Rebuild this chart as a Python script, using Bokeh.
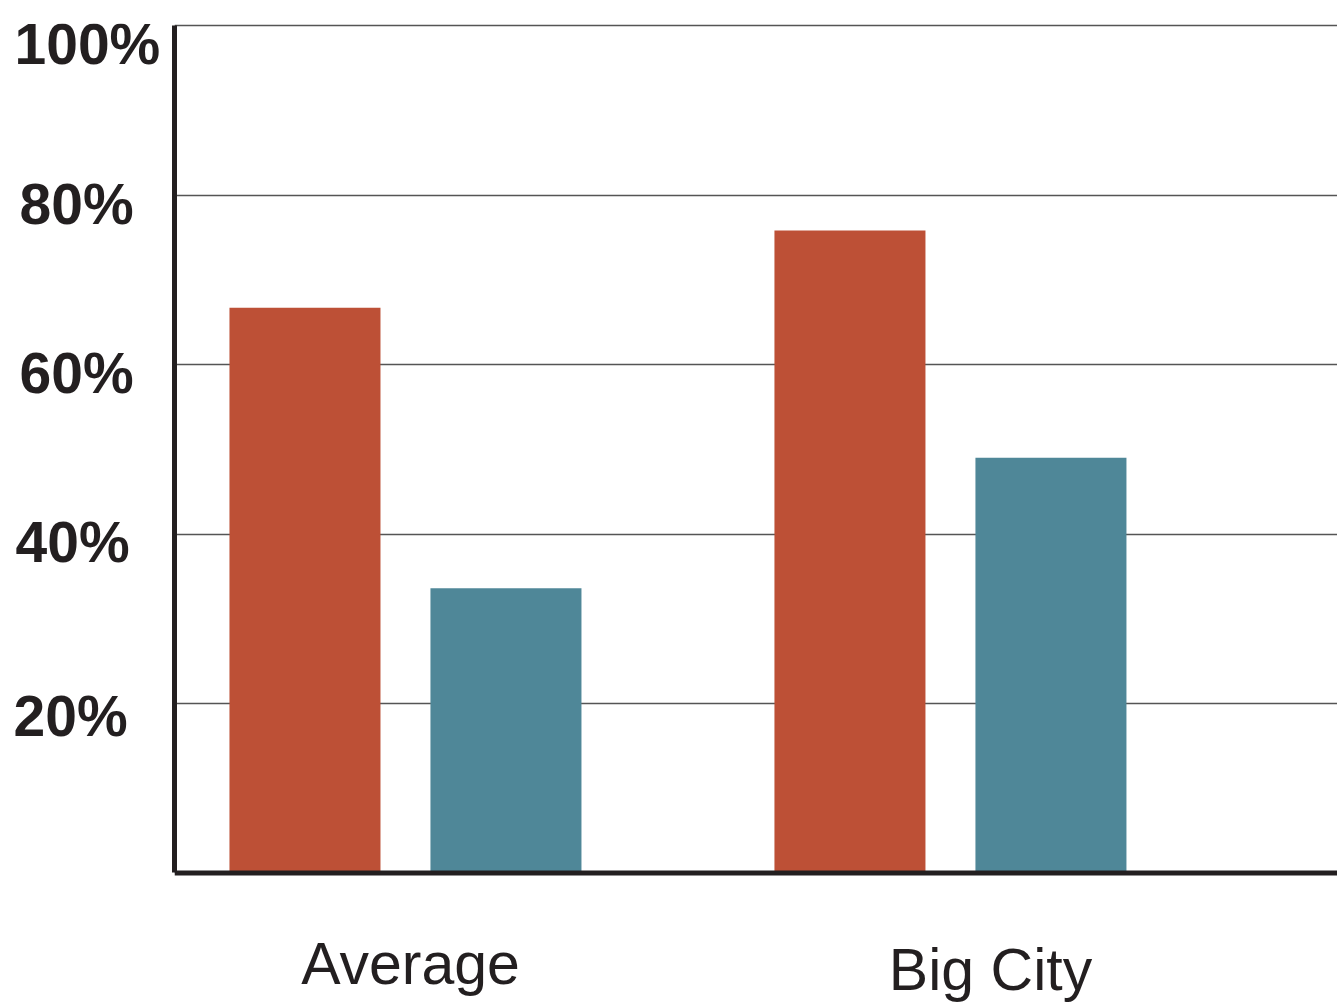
from bokeh.plotting import figure
from bokeh.models import FactorRange, Range1d, ColumnDataSource, FixedTicker, Label, Span
from bokeh.layouts import row
from bokeh.transform import dodge
from bokeh.embed import file_html
from bokeh.resources import INLINE

# ---- data ----
categories = ["Average", "Big City"]
series_red = [66.7, 75.8]
series_teal = [33.6, 49.0]
tick_values = [20, 40, 60, 80, 100]
tick_labels = ["20%", "40%", "60%", "80%", "100%"]

# ---- styles ----
RED = "#bd5036"
TEAL = "#4f8798"
INK = "#231f20"
GRID = "#555555"
tick_label_x = [13, 15, 19, 19, 14]         # canvas px of the label figure
tick_label_drop = [5.5, -3, -6, -9.5, -4]   # px offsets below tick value
cat_label_x = [242, 822]                    # canvas px of the chart figure
cat_label_drop = [91.5, 97.5]               # px below zero line

LEFT_W = 168
H = 1008

y_range = Range1d(-15.99, 100.24)          # chart panel, frame starts 23 px down
label_y_range = Range1d(-15.99, 102.95)    # label panel

# ---- left figure: tick labels ----
lab = figure(width=LEFT_W, height=H, x_range=Range1d(0, LEFT_W), y_range=label_y_range,
             output_backend="svg", toolbar_location=None,
             title=None, title_location=None,
             x_axis_location=None, y_axis_location=None,
             min_border_left=0, min_border_right=0, min_border_top=0, min_border_bottom=0)
lab.outline_line_color = None
lab.xgrid.visible = False
lab.ygrid.visible = False
for v, t, lx, drop in zip(tick_values, tick_labels, tick_label_x, tick_label_drop):
    lab.add_layout(Label(x=lx, y=v, x_units="canvas", y_units="data", y_offset=-drop,
                         text=t, text_font="Liberation Sans", text_font_style="bold",
                         text_font_size="57px", text_color=INK,
                         text_align="left", text_baseline="alphabetic"))

# ---- main chart ----
source = ColumnDataSource(dict(cat=categories, red=series_red, teal=series_teal))
x_range = FactorRange(factors=categories, factor_padding=0.0,
                      range_padding=0.067, range_padding_units="absolute")

p = figure(width=1337 - LEFT_W, height=H, x_range=x_range, y_range=y_range,
           output_backend="svg", toolbar_location=None, x_axis_location=None, title=None,
           min_border_left=6, min_border_right=0, min_border_top=23, min_border_bottom=0)
p.outline_line_color = None

p.vbar(x=dodge("cat", -0.3276, range=p.x_range), top="red", bottom=0, width=0.2771,
       source=source, fill_color=RED, line_color=None)
p.vbar(x=dodge("cat", 0.0412, range=p.x_range), top="teal", bottom=0, width=0.2771,
       source=source, fill_color=TEAL, line_color=None)

p.xgrid.visible = False
p.ygrid.ticker = FixedTicker(ticks=[0] + tick_values)
p.ygrid.grid_line_color = GRID
p.ygrid.grid_line_width = 1.5

ax = p.yaxis[0]
ax.bounds = (0, 100)
ax.ticker = FixedTicker(ticks=[])
ax.axis_line_color = INK
ax.axis_line_width = 5
ax.major_tick_line_color = None
ax.minor_tick_line_color = None
ax.major_label_standoff = 0

p.add_layout(Span(location=0, dimension="width", line_color=INK, line_width=5))

for c, lx, drop in zip(categories, cat_label_x, cat_label_drop):
    p.add_layout(Label(x=lx, y=0, x_units="canvas", y_units="data", y_offset=-drop,
                       text=c, text_font="Liberation Sans", text_font_style="normal",
                       text_font_size="59px", text_color=INK,
                       text_align="center", text_baseline="alphabetic"))

layout = row(lab, p, spacing=0)
open("out.html", "w").write(file_html(layout, INLINE))
